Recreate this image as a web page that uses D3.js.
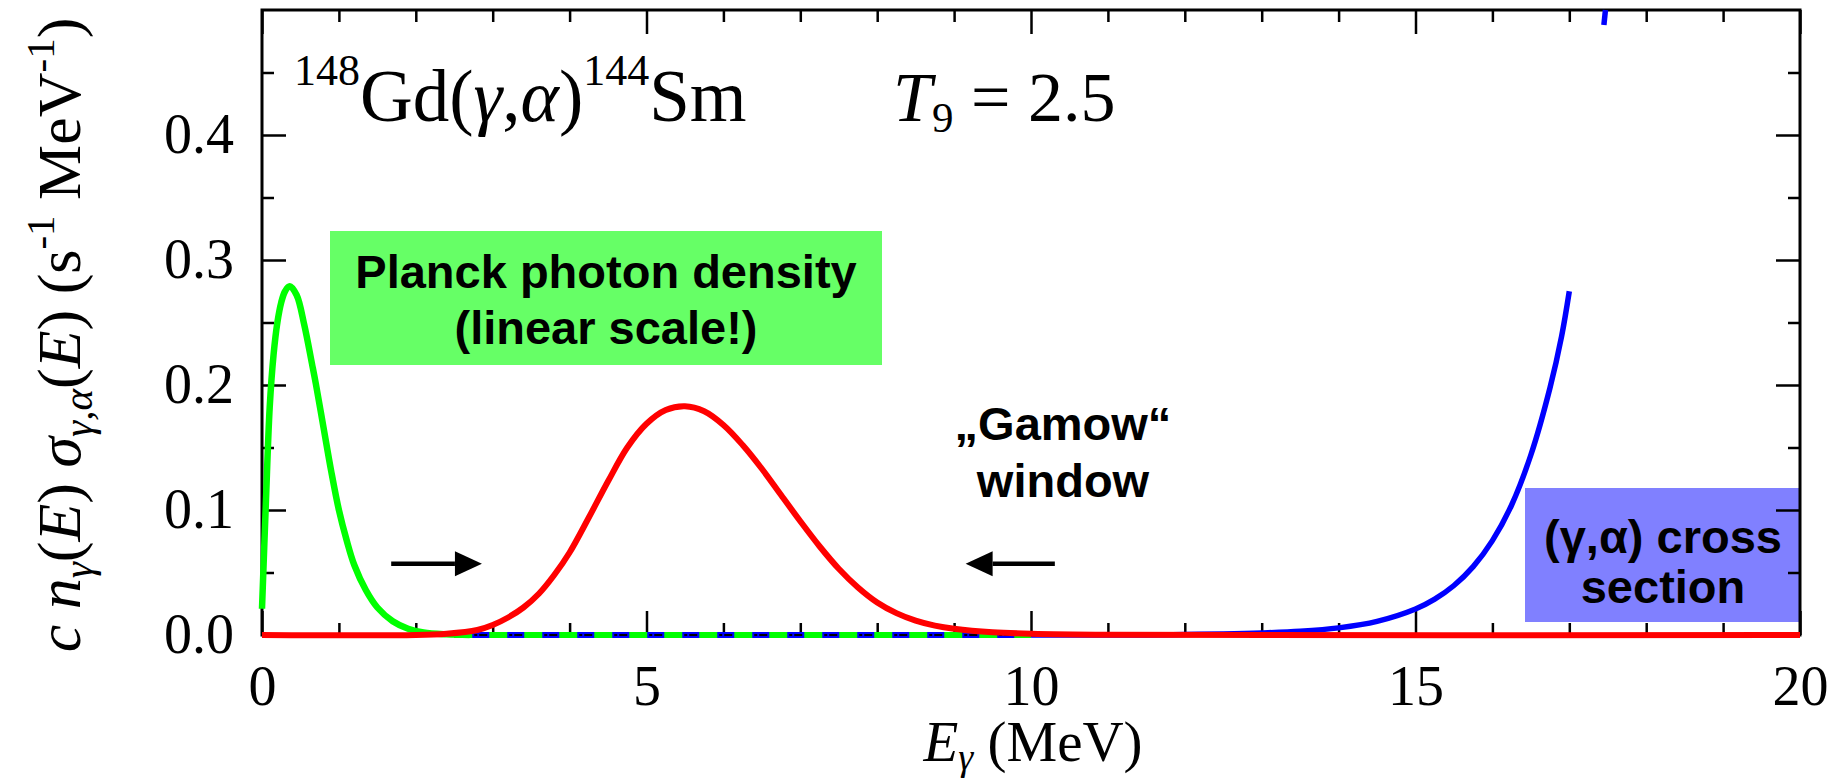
<!DOCTYPE html>
<html>
<head>
<meta charset="utf-8">
<script src="https://cdn.jsdelivr.net/npm/d3@7"></script>
<style>
  html, body { margin: 0; padding: 0; background: #fff; }
  svg { display: block; }
</style>
</head>
<body>
<svg id="chart"></svg>
<script>
// values (E in MeV, y in s^-1 MeV^-1)
const greenE = [0, 0.05, 0.1, 0.15, 0.2, 0.25, 0.3, 0.36, 0.45, 0.55, 0.65, 0.7, 0.8, 0.9, 1.0, 1.1, 1.2, 1.35, 1.5, 1.7, 1.9, 2.1, 2.4, 2.7];
const greenV = [0.021, 0.105, 0.182, 0.224, 0.250, 0.266, 0.275, 0.279, 0.272, 0.248, 0.217, 0.201, 0.166, 0.131, 0.100, 0.076, 0.056, 0.036, 0.022, 0.011, 0.005, 0.002, 0.0005, 0];

const redE = [0, 2.0, 2.4, 2.8, 3.0, 3.2, 3.4, 3.6, 3.8, 4.0, 4.25, 4.5, 4.75, 5.0, 5.25, 5.5, 5.75, 6.0, 6.25, 6.5, 6.75, 7.0, 7.25, 7.5, 7.75, 8.0, 8.25, 8.5, 8.75, 9.0, 9.5, 10, 11, 20];
const redV = [0, 0, 0.001, 0.004, 0.008, 0.014, 0.022, 0.033, 0.048, 0.066, 0.094, 0.123, 0.150, 0.169, 0.180, 0.183, 0.179, 0.168, 0.152, 0.133, 0.112, 0.091, 0.071, 0.053, 0.038, 0.026, 0.0175, 0.0115, 0.0075, 0.005, 0.0022, 0.001, 0.0002, 0];

const blueE = [10, 11.5, 12, 12.5, 13, 13.5, 14, 14.5, 15, 15.25, 15.5, 15.75, 16, 16.25, 16.5, 16.75, 16.9, 17.0];
const blueV = [0, 0.0001, 0.0004, 0.0008, 0.0016, 0.003, 0.0057, 0.0109, 0.0208, 0.0287, 0.0396, 0.0547, 0.0755, 0.104, 0.144, 0.198, 0.239, 0.275];
const blueTopE = [17.45, 17.47];
const blueTopV = [0.488, 0.5];

// overlapping green / blue pieces lying on zero
const baseE = [2.5, 10];
const baseV = [0, 0];

const xMajor = [0, 5, 10, 15, 20];
const xMinor = [1, 2, 3, 4, 6, 7, 8, 9, 11, 12, 13, 14, 16, 17, 18, 19];
const yMajor = [0.0, 0.1, 0.2, 0.3, 0.4];
const yMinor = [0.05, 0.15, 0.25, 0.35, 0.45];

// arrows of the "Gamow" window: [from E, to E, level]
const arrowFrom = [1.68, 10.31];
const arrowTo = [2.86, 9.15];
const arrowLevel = [0.057, 0.057];

const w = 1845, h = 778;
const margin = { top: 10, right: 45, bottom: 143, left: 262 };
const serif = "'Liberation Serif', 'Times New Roman', serif";
const sans = "'Liberation Sans', Arial, sans-serif";

const svg = d3.select("#chart").attr("width", w).attr("height", h);

const x = d3.scaleLinear().domain([0, 20]).range([margin.left, w - margin.right]);
const y = d3.scaleLinear().domain([0, 0.5]).range([h - margin.bottom, margin.top]);

const zip = (a, b) => a.map((v, i) => [v, b[i]]);
const line = d3.line().x(d => x(d[0])).y(d => y(d[1])).curve(d3.curveCatmullRom.alpha(0.5));

// label boxes (behind the curves)
svg.append("rect").attr("x", 330).attr("y", 231).attr("width", 552).attr("height", 134).attr("fill", "#66ff66");
svg.append("rect").attr("x", 1525).attr("y", 488).attr("width", x(20) - 1525).attr("height", 134).attr("fill", "#8080ff");

// axes: ticks point inward on all four sides
const tickAxis = (axisFn, scale, values, size, pos) => {
    const ax = axisFn(scale).tickValues(values).tickSizeInner(-size).tickSizeOuter(0).tickFormat("");
    const g = svg.append("g").attr("transform", pos).call(ax);
    g.select(".domain").remove();
    g.selectAll(".tick line").attr("stroke", "#000").attr("stroke-width", 2.5);
    return g;
};

const bottomPos = `translate(0,${y(0)})`;
const topPos = `translate(0,${y(0.5)})`;
const leftPos = `translate(${x(0)},0)`;
const rightPos = `translate(${x(20)},0)`;

tickAxis(d3.axisBottom, x, xMinor, 12, bottomPos);
tickAxis(d3.axisTop, x, xMinor, 12, topPos);
tickAxis(d3.axisTop, x, xMajor, 24, topPos);
tickAxis(d3.axisLeft, y, yMinor, 12, leftPos);
tickAxis(d3.axisRight, y, yMinor, 12, rightPos);
tickAxis(d3.axisRight, y, yMajor, 24, rightPos);

const xAx = svg.append("g").attr("transform", bottomPos)
    .call(d3.axisBottom(x).tickValues(xMajor).tickSizeInner(-24).tickSizeOuter(0).tickPadding(30).tickFormat(d3.format("d")));
xAx.select(".domain").remove();
xAx.selectAll(".tick line").attr("stroke", "#000").attr("stroke-width", 2.5);
xAx.selectAll("text").attr("font-family", serif).attr("font-size", 56).attr("fill", "#000");

const yAx = svg.append("g").attr("transform", leftPos)
    .call(d3.axisLeft(y).tickValues(yMajor).tickSizeInner(-24).tickSizeOuter(0).tickPadding(28).tickFormat(d3.format(".1f")));
yAx.select(".domain").remove();
yAx.selectAll(".tick line").attr("stroke", "#000").attr("stroke-width", 2.5);
yAx.selectAll("text").attr("font-family", serif).attr("font-size", 56).attr("fill", "#000");

// frame
svg.append("rect")
    .attr("x", x(0)).attr("y", y(0.5))
    .attr("width", x(20) - x(0)).attr("height", y(0) - y(0.5))
    .attr("fill", "none").attr("stroke", "#000").attr("stroke-width", 3);

// pieces on the zero line: blue with black dashes, green dashes on top
const base = zip(baseE, baseV);
svg.append("path").attr("d", line(base)).attr("fill", "none").attr("stroke", "#0000ff").attr("stroke-width", 6);
svg.append("path").attr("d", line(base)).attr("fill", "none").attr("stroke", "#000").attr("stroke-width", 2)
    .attr("stroke-dasharray", "0,20,3,2,8,2");
svg.append("path").attr("d", line(base)).attr("fill", "none").attr("stroke", "#00ff00").attr("stroke-width", 6)
    .attr("stroke-dasharray", "18,17");

// curves
svg.append("path").attr("d", line(zip(greenE, greenV))).attr("fill", "none")
    .attr("stroke", "#00ff00").attr("stroke-width", 6.5);
svg.append("path").attr("d", line(zip(blueE, blueV))).attr("fill", "none")
    .attr("stroke", "#0000ff").attr("stroke-width", 5.5);
svg.append("path").attr("d", line(zip(blueTopE, blueTopV))).attr("fill", "none")
    .attr("stroke", "#0000ff").attr("stroke-width", 5.5);
svg.append("path").attr("d", line(zip(redE, redV))).attr("fill", "none")
    .attr("stroke", "#ff0000").attr("stroke-width", 6);

// arrows
arrowFrom.forEach((e0, i) => {
    const x0 = x(e0), x1 = x(arrowTo[i]), yy = y(arrowLevel[i]);
    const dir = Math.sign(x1 - x0);
    const headLen = 27, half = 12.5;
    svg.append("line").attr("x1", x0).attr("x2", x1 - dir * headLen).attr("y1", yy).attr("y2", yy)
        .attr("stroke", "#000").attr("stroke-width", 4.5);
    svg.append("path")
        .attr("d", `M${x1},${yy}L${x1 - dir * headLen},${yy - half}L${x1 - dir * headLen},${yy + half}Z`)
        .attr("fill", "#000");
});

// text helper: parts = {t: text, i: italic, s: baseline shift, f: font size}
const rich = (g, parts, size) => {
    const t = g.append("text").attr("font-family", serif).attr("font-size", size).attr("fill", "#000");
    let cur = 0;
    parts.forEach(p => {
        const ts = t.append("tspan").text(p.t);
        if (p.i) ts.attr("font-style", "italic");
        const target = p.s || 0;
        if (target !== cur) { ts.attr("dy", target - cur); cur = target; }
        if (p.f) ts.attr("font-size", p.f);
    });
    return t;
};

// title
rich(svg, [
    { t: "148", s: -36, f: 44 },
    { t: "Gd(" },
    { t: "γ", i: true },
    { t: "," },
    { t: "α", i: true },
    { t: ")" },
    { t: "144", s: -36, f: 44 },
    { t: "Sm" }
], 73).attr("x", 294).attr("y", 121);

rich(svg, [
    { t: "T", i: true },
    { t: "9", s: 11, f: 43 },
    { t: " = 2.5" }
], 70).attr("x", 893).attr("y", 121);

// axis titles
rich(svg, [
    { t: "E", i: true },
    { t: "γ", i: true, s: 9, f: 38 },
    { t: " (MeV)" }
], 57).attr("x", x(10) + 2).attr("y", 761).attr("text-anchor", "middle");

rich(svg, [
    { t: "c n", i: true },
    { t: "γ", i: true, s: 12, f: 41 },
    { t: "(" },
    { t: "E", i: true },
    { t: ") " },
    { t: "σ", i: true },
    { t: "γ,α", i: true, s: 12, f: 41 },
    { t: "(" },
    { t: "E", i: true },
    { t: ") (s" },
    { t: "-1", s: -26, f: 41 },
    { t: " MeV" },
    { t: "-1", s: -26, f: 41 },
    { t: ")" }
], 62).attr("text-anchor", "middle").attr("transform", "translate(80,335) rotate(-90)");

// annotations
const label = (lines, cx, ys) => {
    lines.forEach((s, i) => {
        svg.append("text").attr("x", cx).attr("y", ys[i]).attr("text-anchor", "middle")
            .attr("font-family", sans).attr("font-weight", "bold").attr("font-size", 47)
            .attr("fill", "#000").text(s);
    });
};
label(["Planck photon density", "(linear scale!)"], 606, [288, 344]);
label(["\u201EGamow\u201C", "window"], 1063, [440, 497]);
label(["(γ,α) cross", "section"], 1663, [553, 603]);
</script>
</body>
</html>
